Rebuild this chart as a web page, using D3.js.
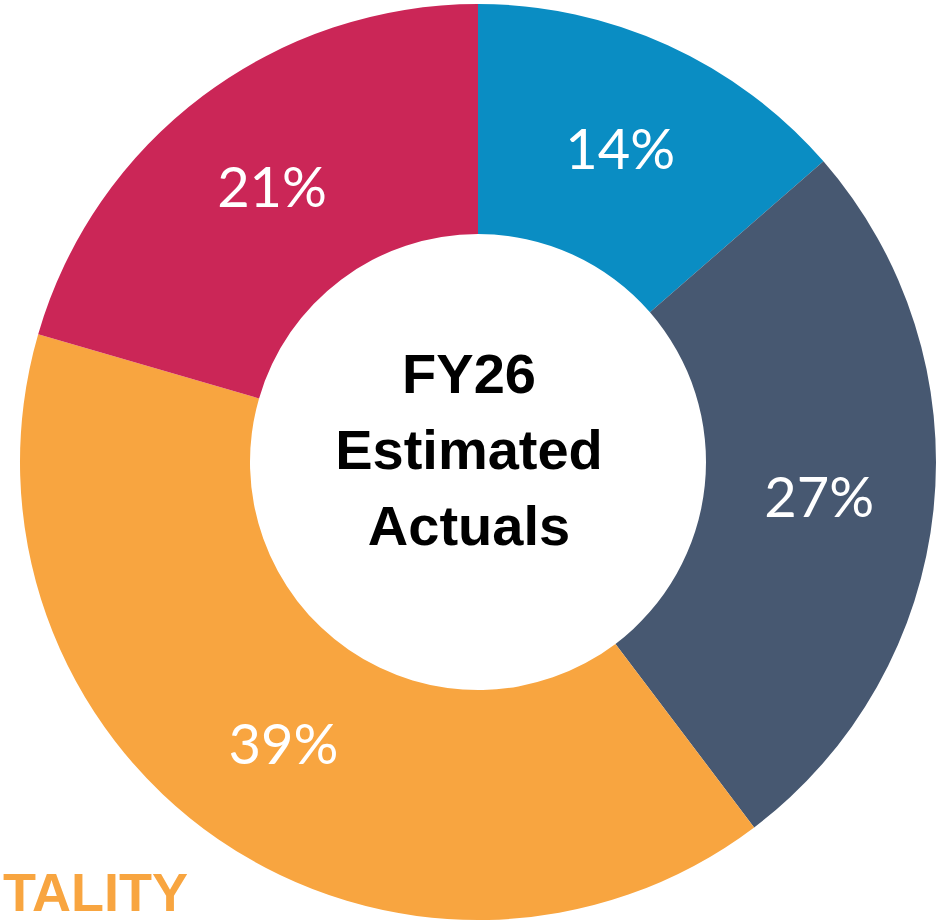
<!DOCTYPE html>
<html>
<head>
<meta charset="utf-8">
<script src="https://cdn.jsdelivr.net/npm/d3@7"></script>
<style>
  html, body { margin: 0; padding: 0; background: #fff; }
</style>
</head>
<body>
<div id="canvas"></div>
<script>
// --- data (clockwise from 12 o'clock)
var categories = ["A", "B", "C", "D"];
var shares = [13.6, 26.1, 39.8, 20.5];
var labels = ["14%", "27%", "39%", "21%"];
var colors = ["#0a8dc3", "#475871", "#f8a540", "#cb2657"];
var centerLines = ["FY26", "Estimated", "Actuals"];
var cutText = "TALITY";

var W = 948, H = 921;
var cx = 478, cy = 462;
var outerR = 458, innerR = 228;

var svg = d3.select('#canvas')
  .append('svg')
  .attr('width', W)
  .attr('height', H);

var plot = svg.append('g')
  .attr('transform', 'translate(' + cx + ',' + cy + ')');

var pie = d3.pie()
  .sort(null)
  .value(function(d){ return d; });

var arc = d3.arc()
  .innerRadius(innerR)
  .outerRadius(outerR);

var slices = pie(shares);

plot.selectAll('path')
  .data(slices)
  .enter()
  .append('path')
  .attr('d', arc)
  .attr('fill', function(d, i){ return colors[i]; });

// --- percent labels at the slice centroids
plot.selectAll('text.pct')
  .data(slices)
  .enter()
  .append('text')
  .attr('class', 'pct')
  .attr('x', function(d){ return arc.centroid(d)[0]; })
  .attr('y', function(d){ return arc.centroid(d)[1]; })
  .attr('dy', '0.35em')
  .attr('text-anchor', 'middle')
  .attr('font-family', 'Lato, "Open Sans", sans-serif')
  .attr('font-size', '56px')
  .attr('fill', '#fff')
  .text(function(d, i){ return labels[i]; });

// --- centre title
plot.selectAll('text.title')
  .data(centerLines)
  .enter()
  .append('text')
  .attr('class', 'title')
  .attr('x', -9)
  .attr('y', function(d, i){ return -69 + i * 76; })
  .attr('text-anchor', 'middle')
  .attr('font-family', '"Liberation Sans", Arial, sans-serif')
  .attr('font-weight', 'bold')
  .attr('font-size', '56px')
  .attr('fill', '#000')
  .text(function(d){ return d; });

// --- clipped word in the lower left corner
svg.append('text')
  .attr('x', 3)
  .attr('y', 911)
  .attr('font-family', '"Liberation Sans", Arial, sans-serif')
  .attr('font-weight', 'bold')
  .attr('font-size', '54px')
  .attr('fill', '#f8a540')
  .text(cutText);
</script>
</body>
</html>
